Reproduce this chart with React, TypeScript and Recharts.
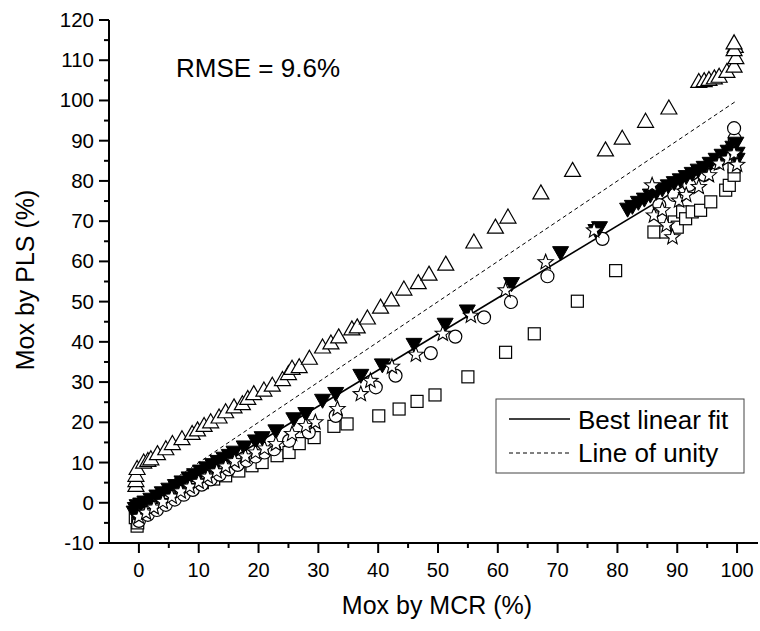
import { ScatterChart, Scatter, XAxis, YAxis, ReferenceLine } from "recharts"

const FONT = "Arial, 'Liberation Sans', Helvetica, sans-serif"

// axis ticks (every 5, labelled every 10)
const xTicks = [0, 5, 10, 15, 20, 25, 30, 35, 40, 45, 50, 55, 60, 65, 70, 75, 80, 85, 90, 95, 100]
const yTicks = [-10, -5, 0, 5, 10, 15, 20, 25, 30, 35, 40, 45, 50, 55, 60, 65, 70, 75, 80, 85, 90, 95, 100, 105, 110, 115, 120]

// [Mox by MCR, Mox by PLS]
const upTriangles = [
  [-0.5, 4.2], [-0.5, 5.4], [-0.5, 6.7], [-0.3, 8.4], [0.8, 10.0], [1.5, 10.4], [2.0, 10.8], [3.1, 12.1],
  [4.5, 13.3], [5.6, 14.6], [7.2, 15.8], [8.9, 17.1], [9.8, 18.0], [10.9, 19.1], [12.0, 20.0], [13.4, 21.2],
  [14.5, 22.5], [15.9, 23.7], [17.3, 24.5], [18.2, 25.8], [19.2, 27.0], [20.9, 27.9], [22.3, 29.1], [24.0, 30.5],
  [25.0, 32.0], [25.6, 33.3], [26.8, 33.7], [28.5, 35.8], [30.7, 38.6], [32.1, 39.6], [33.4, 41.1], [35.6, 43.1],
  [36.5, 43.6], [38.2, 45.8], [40.4, 48.5], [42.2, 50.3], [44.3, 53.0], [46.7, 54.6], [48.5, 56.7], [51.3, 59.2],
  [56.0, 64.7], [59.6, 68.4], [61.7, 70.9], [67.2, 76.9], [72.5, 82.5], [78.0, 87.6], [80.8, 90.5], [84.7, 94.7],
  [88.6, 98.0], [93.6, 104.6], [94.5, 104.8], [95.3, 105.1], [96.2, 105.5], [97.0, 105.9], [98.3, 107.1],
  [99.5, 108.4], [99.8, 110.5], [99.7, 113.3], [99.5, 112.5], [99.5, 114.2],
]

const downTriangles = [
  [-0.8, -2.2], [-0.6, -1.3], [-0.3, -0.6], [0.3, -0.2], [1.0, 0.3], [2.0, 1.0], [3.0, 1.8], [3.9, 2.6],
  [5.0, 3.5], [6.1, 4.4], [7.2, 5.3], [8.4, 6.3], [9.3, 7.1], [10.3, 8.0], [11.3, 8.8], [12.3, 9.6],
  [13.2, 10.4], [14.2, 11.2], [15.1, 11.9], [15.9, 12.7], [17.6, 14.0], [19.5, 15.5], [20.6, 16.3],
  [22.9, 18.0], [25.9, 21.0], [27.9, 22.3], [30.7, 25.6], [32.9, 27.3], [37.1, 31.8], [40.7, 34.4],
  [46.0, 39.5], [51.2, 44.5], [54.9, 47.8], [62.3, 54.6], [70.5, 62.3], [76.4, 67.8], [77.0, 68.5],
  [81.7, 73.1], [82.5, 73.8], [83.5, 74.8], [84.5, 75.6], [85.5, 76.6], [86.5, 77.3], [87.5, 78.1],
  [88.5, 78.9], [89.5, 79.7], [90.5, 80.4], [91.5, 81.2], [92.5, 82.0], [93.5, 82.8], [94.5, 83.5],
  [95.5, 84.5], [96.5, 85.5], [97.5, 86.5], [98.5, 87.5], [99.3, 88.5], [99.8, 89.5], [100, 87.0], [100, 85.5],
]

const stars = [
  [0, -3.5], [1.2, -2.5], [2.5, -1.2], [4.0, 0.2], [5.5, 1.5], [7.0, 2.8], [8.5, 4.0], [10.0, 5.2],
  [11.5, 6.5], [13.0, 7.8], [14.5, 9.0], [16.0, 10.3], [17.8, 11.5], [19.5, 12.5], [21.0, 13.5], [22.9, 14.6],
  [25.6, 17.1], [27.9, 19.1], [29.5, 20.0], [33.2, 23.3], [37.1, 27.0], [38.7, 30.3], [42.3, 33.8],
  [46.3, 36.8], [50.8, 42.0], [55.5, 46.5], [61.3, 52.8], [68.0, 59.8], [76.1, 67.7],
  [85.8, 78.9], [86.1, 71.4], [87.5, 72.7], [88.2, 69.0], [89.2, 66.0], [90.3, 75.1], [91.5, 76.5],
  [93.6, 78.5], [95.3, 81.4], [97.0, 84.3], [98.5, 85.5], [99.5, 86.8], [100, 84.0],
]

const circles = [
  [0, -4.5], [1.5, -3.0], [3.0, -1.8], [4.5, -0.5], [6.0, 0.8], [7.5, 2.0], [9.0, 3.2], [10.5, 4.5],
  [12.0, 5.8], [13.5, 7.0], [15.0, 8.3], [16.5, 9.4], [18.0, 10.5], [19.5, 11.5], [21.0, 12.5], [22.6, 13.3],
  [25.1, 15.4], [28.4, 17.5], [32.9, 21.6], [39.6, 28.7], [42.9, 31.6], [48.8, 37.2], [52.9, 41.3],
  [57.7, 46.1], [62.2, 49.9], [68.3, 56.3], [77.5, 65.6],
  [87.0, 74.0], [89.5, 76.5], [92.0, 79.0], [94.5, 81.5], [96.5, 84.5], [98.0, 86.0], [99.0, 88.0],
  [99.6, 90.5], [99.5, 93.1],
]

const squares = [
  [-0.3, -5.8], [-0.6, -3.7], [-0.2, -5.0], [1.1, -2.0], [2.8, -0.4], [4.5, 0.9], [6.7, 2.1], [8.9, 3.8],
  [10.6, 5.0], [12.5, 5.9], [14.5, 6.7], [16.7, 7.9], [18.9, 9.2], [20.6, 10.0], [23.1, 11.7], [25.1, 12.5],
  [26.8, 14.7], [29.3, 16.2], [32.6, 19.0], [34.8, 19.6], [40.1, 21.6], [43.5, 23.3], [46.5, 25.2],
  [49.5, 26.8], [55.0, 31.3], [61.3, 37.4], [66.1, 42.0], [73.3, 50.1], [79.7, 57.7],
  [86.1, 67.3], [88.1, 67.3], [89.5, 69.8], [90.0, 68.5], [90.9, 72.3], [91.4, 70.6], [92.5, 72.3],
  [93.9, 72.7], [95.6, 74.8], [98.1, 77.7], [98.7, 78.9], [99.5, 81.4], [99.5, 83.5],
]

const bestFit = [[0, -2.9], [100, 86.8]]
const unity = [[0, 0], [100, 100]]

const toPoints = (arr: number[][]) => arr.map(([x, y]) => ({ x, y }))

const UpTriangle = (props: any) => {
  const { cx, cy } = props
  return (
    <path
      d={`M${cx},${cy - 8.5}L${cx + 8},${cy + 5.5}L${cx - 8},${cy + 5.5}Z`}
      fill="#fff"
      stroke="#000"
      strokeWidth={1.2}
    />
  )
}

const DownTriangle = (props: any) => {
  const { cx, cy } = props
  return <path d={`M${cx},${cy + 8.5}L${cx + 8},${cy - 5.5}L${cx - 8},${cy - 5.5}Z`} fill="#000" stroke="#000" strokeWidth={1} />
}

const Star = (props: any) => {
  const { cx, cy } = props
  const pts: string[] = []
  for (let i = 0; i < 10; i++) {
    const r = i % 2 === 0 ? 8 : 3.4
    const a = -Math.PI / 2 + (i * Math.PI) / 5
    pts.push(`${cx + r * Math.cos(a)},${cy + r * Math.sin(a)}`)
  }
  return <polygon points={pts.join(" ")} fill="#fff" stroke="#000" strokeWidth={1.1} />
}

const Circle = (props: any) => {
  const { cx, cy } = props
  return <circle cx={cx} cy={cy} r={6.5} fill="#fff" stroke="#000" strokeWidth={1.2} />
}

const Square = (props: any) => {
  const { cx, cy } = props
  return <rect x={cx - 6} y={cy - 6} width={12} height={12} fill="#fff" stroke="#000" strokeWidth={1.2} />
}

const XTick = (props: any) => {
  const { x, y, payload } = props
  const major = payload.value % 10 === 0
  return (
    <g>
      <line x1={x} y1={y} x2={x} y2={y + (major ? 10 : 5)} stroke="#000" strokeWidth={2} />
      {major && (
        <text x={x} y={y + 34} textAnchor="middle" fontSize={20} fontFamily={FONT} fill="#000">
          {payload.value}
        </text>
      )}
    </g>
  )
}

const YTick = (props: any) => {
  const { x, y, payload } = props
  const major = payload.value % 10 === 0
  return (
    <g>
      <line x1={x - (major ? 10 : 5)} y1={y} x2={x} y2={y} stroke="#000" strokeWidth={2} />
      {major && (
        <text x={x - 15} y={y + 7} textAnchor="end" fontSize={20.5} fontFamily={FONT} fill="#000">
          {payload.value}
        </text>
      )}
    </g>
  )
}

export default function App() {
  return (
    <div style={{ position: "absolute", left: 0, top: 0, width: 760, height: 631, background: "#fff" }}>
      <ScatterChart width={760} height={631} margin={{ top: 20, right: 2, bottom: 0, left: 0 }}>
        <XAxis
          type="number"
          dataKey="x"
          domain={[-5, 103.5]}
          ticks={xTicks}
          interval={0}
          tickSize={0}
          tickMargin={0}
          tick={<XTick />}
          axisLine={{ stroke: "#000", strokeWidth: 2 }}
          height={88}
          allowDataOverflow
        />
        <YAxis
          type="number"
          dataKey="y"
          domain={[-10, 120]}
          ticks={yTicks}
          interval={0}
          tickSize={0}
          tickMargin={0}
          tick={<YTick />}
          axisLine={{ stroke: "#000", strokeWidth: 2 }}
          width={109}
          allowDataOverflow
        />
        <ReferenceLine
          segment={toPoints(unity)}
          stroke="#000"
          strokeWidth={1}
          strokeDasharray="4 3"
        />
        <ReferenceLine segment={toPoints(bestFit)} stroke="#000" strokeWidth={1.6} />
        <Scatter data={toPoints(squares)} shape={<Square />} isAnimationActive={false} />
        <Scatter data={toPoints(circles)} shape={<Circle />} isAnimationActive={false} />
        <Scatter data={toPoints(downTriangles)} shape={<DownTriangle />} isAnimationActive={false} />
        <Scatter data={toPoints(stars)} shape={<Star />} isAnimationActive={false} />
        <Scatter data={toPoints(upTriangles)} shape={<UpTriangle />} isAnimationActive={false} />
      </ScatterChart>
      <svg width={760} height={631} style={{ position: "absolute", left: 0, top: 0, pointerEvents: "none" }}>
        <text x={176} y={77} fontSize={26} fontFamily={FONT} fill="#000">
          RMSE = 9.6%
        </text>
        <text
          x={34}
          y={280}
          transform="rotate(-90 34 280)"
          textAnchor="middle"
          fontSize={25}
          fontFamily={FONT}
          fill="#000"
        >
          Mox by PLS (%)
        </text>
        <text x={437} y={614} textAnchor="middle" fontSize={25} fontFamily={FONT} fill="#000">
          Mox by MCR (%)
        </text>
        <rect x={496} y={399} width={248} height={74} fill="#fff" stroke="#444" strokeWidth={1} />
        <line x1={509} y1={419} x2={570} y2={419} stroke="#000" strokeWidth={1.6} />
        <text x={578} y={429} fontSize={26} fontFamily={FONT} fill="#000">
          Best linear fit
        </text>
        <line x1={509} y1={453} x2={570} y2={453} stroke="#000" strokeWidth={1} strokeDasharray="4 3" />
        <text x={578} y={462} fontSize={26} fontFamily={FONT} fill="#000">
          Line of unity
        </text>
      </svg>
    </div>
  )
}
